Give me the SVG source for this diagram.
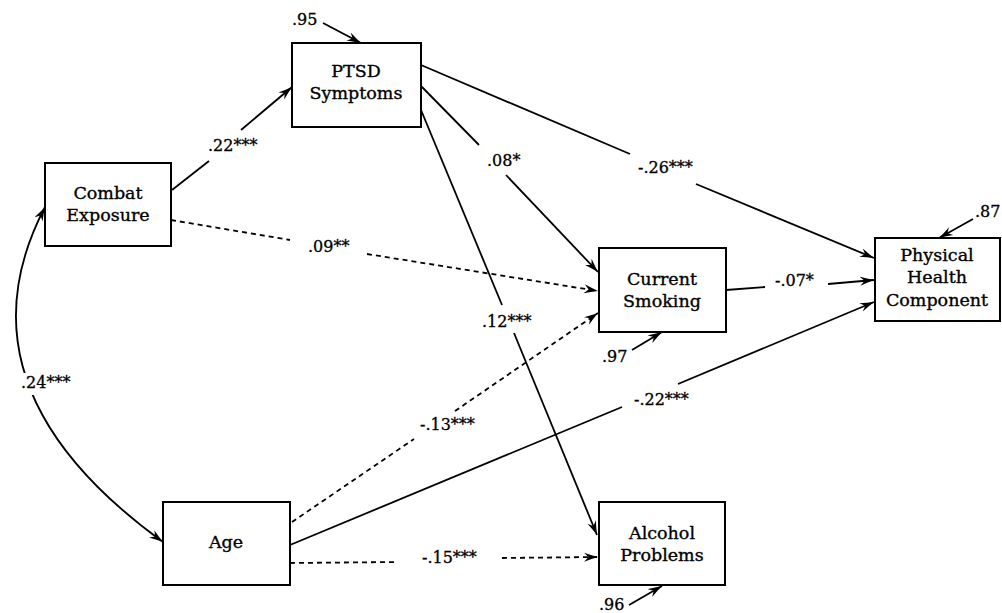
<svg xmlns="http://www.w3.org/2000/svg" width="1002" height="613" viewBox="0 0 1002 613">
<defs>
<marker id="ah" viewBox="0 0 14 10" refX="14" refY="5" markerWidth="14" markerHeight="10" markerUnits="userSpaceOnUse" orient="auto">
<path d="M0,0.5 Q7,3 14,5 Q7,7 0,9.5 L4.5,5 Z" fill="#000"/>
</marker>
<marker id="ahs" viewBox="0 0 14 10" refX="14" refY="5" markerWidth="14" markerHeight="10" markerUnits="userSpaceOnUse" orient="auto-start-reverse">
<path d="M0,0.5 Q7,3 14,5 Q7,7 0,9.5 L4.5,5 Z" fill="#000"/>
</marker>
<style>
.box{fill:#fff;stroke:#000;stroke-width:2}
.t{font-family:"DejaVu Serif","Liberation Serif",serif;font-size:17.5px;fill:#000;stroke:#000;stroke-width:0.35;text-anchor:middle}
.l{font-family:"DejaVu Serif","Liberation Serif",serif;font-size:16px;fill:#000;stroke:#000;stroke-width:0.3}
.s{fill:none;stroke:#000;stroke-width:1.8}
.d{fill:none;stroke:#000;stroke-width:1.8;stroke-dasharray:5 4}
.a{marker-end:url(#ah)}
</style>
</defs>
<rect width="1002" height="613" fill="#fff"/>
<g id="connectors">
<path class="s" d="M45,207 C-27,345 43,455 163,542" marker-start="url(#ahs)" marker-end="url(#ah)"/>
<rect x="18" y="373" width="58" height="22" fill="#fff"/>
<line class="s" x1="172" y1="190" x2="209" y2="161"/>
<line class="s a" x1="241" y1="130" x2="292" y2="87"/>
<line class="d" x1="171" y1="220" x2="290" y2="240"/>
<line class="d a" x1="367" y1="254" x2="598" y2="291"/>
<line class="s" x1="421" y1="65" x2="630" y2="154"/>
<line class="s a" x1="696" y1="184" x2="874" y2="258"/>
<line class="s" x1="421" y1="86" x2="479" y2="145"/>
<line class="s a" x1="506" y1="175" x2="598" y2="272"/>
<line class="s" x1="421" y1="110" x2="502" y2="305"/>
<line class="s a" x1="514" y1="333" x2="597" y2="535"/>
<line class="s" x1="726" y1="290" x2="765" y2="287"/>
<line class="s a" x1="828" y1="284" x2="874" y2="280"/>
<line class="d" x1="292" y1="522" x2="414" y2="439"/>
<line class="d a" x1="455" y1="411" x2="598" y2="313"/>
<line class="s" x1="290" y1="545" x2="622" y2="407"/>
<line class="s a" x1="678" y1="384" x2="874" y2="302"/>
<line class="d" x1="290" y1="563" x2="398" y2="562"/>
<line class="d a" x1="502" y1="558" x2="598" y2="557"/>
<line class="s a" x1="323" y1="23" x2="361" y2="43"/>
<line class="s a" x1="632" y1="350" x2="662" y2="332"/>
<line class="s a" x1="629" y1="605" x2="662" y2="586"/>
<line class="s a" x1="973" y1="219" x2="939" y2="238"/>
</g>
<g id="labels">
<text class="l" x="21" y="388">.24***</text>
<text class="l" x="208" y="151">.22***</text>
<text class="l" x="308" y="252">.09**</text>
<text class="l" x="638" y="173">-.26***</text>
<text class="l" x="487" y="166">.08*</text>
<text class="l" x="482" y="327">.12***</text>
<text class="l" x="775" y="286">-.07*</text>
<text class="l" x="420" y="430">-.13***</text>
<text class="l" x="634" y="405">-.22***</text>
<text class="l" x="422" y="563">-.15***</text>
<text class="l" x="292" y="25">.95</text>
<text class="l" x="602" y="362">.97</text>
<text class="l" x="599" y="610">.96</text>
<text class="l" x="975" y="217">.87</text>
</g>
<g id="ptsd">
<rect class="box" x="292" y="43" width="129" height="84"/>
<text class="t" x="356" y="77">PTSD</text>
<text class="t" x="356" y="99">Symptoms</text>
</g>
<g id="combat">
<rect class="box" x="45" y="163" width="126" height="83"/>
<text class="t" x="108" y="199">Combat</text>
<text class="t" x="108" y="221">Exposure</text>
</g>
<g id="smoking">
<rect class="box" x="599" y="248" width="127" height="84"/>
<text class="t" x="662" y="285">Current</text>
<text class="t" x="662" y="307">Smoking</text>
</g>
<g id="physical">
<rect class="box" x="875" y="238" width="125" height="83"/>
<text class="t" x="937" y="261">Physical</text>
<text class="t" x="937" y="283">Health</text>
<text class="t" x="937" y="306">Component</text>
</g>
<g id="age">
<rect class="box" x="163" y="502" width="127" height="83"/>
<text class="t" x="226" y="548">Age</text>
</g>
<g id="alcohol">
<rect class="box" x="599" y="502" width="126" height="83"/>
<text class="t" x="662" y="539">Alcohol</text>
<text class="t" x="662" y="561">Problems</text>
</g>
</svg>
